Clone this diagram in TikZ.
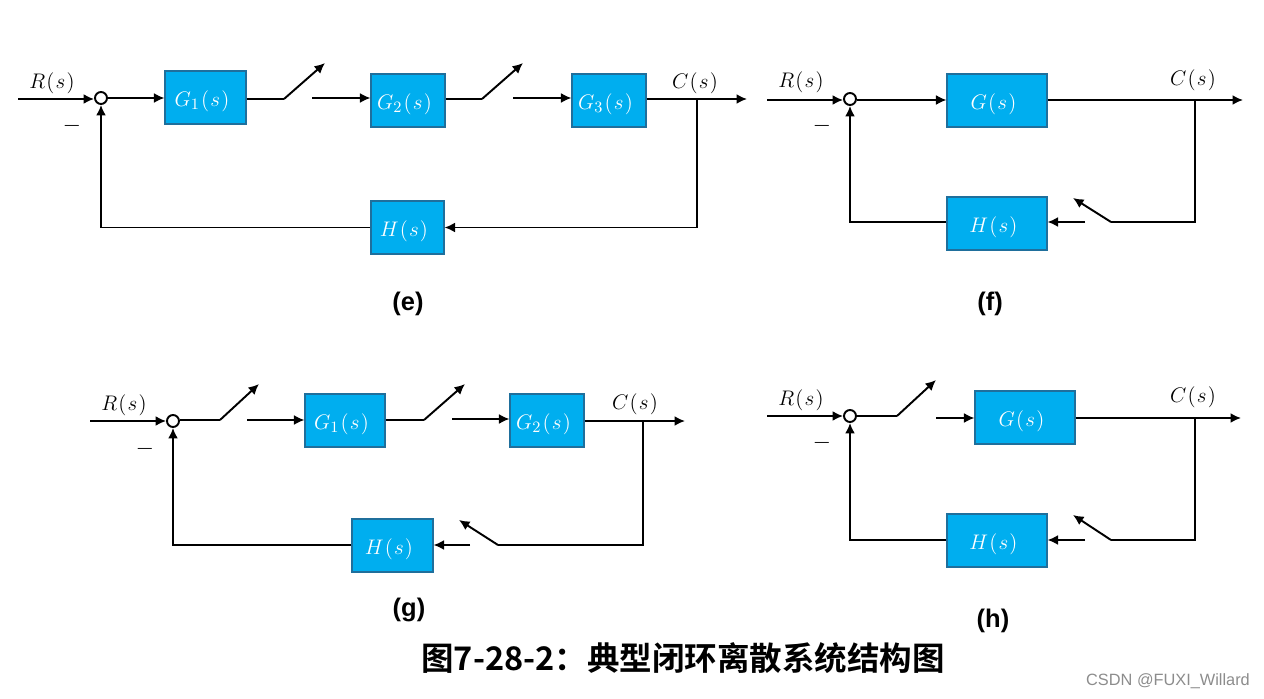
\documentclass[tikz,border=0pt]{standalone}
\usepackage{amsmath,amssymb}
\usepackage{fontspec}
\setsansfont{Liberation Sans}
\newfontfamily\cjk{Noto Sans CJK SC}[BoldFont={* Bold}]
\usepackage{xcolor}
\usetikzlibrary{arrows.meta,positioning,calc}
\definecolor{blockblue}{HTML}{00AEEF}
\definecolor{blockedge}{HTML}{1F6F9C}
\newcommand{\tfn}[1]{$#1\mkern1mu(\mkern1mu s\mkern1mu)$}

\begin{document}
\begin{tikzpicture}[x=.02cm,y=-.02cm,>={Latex[length=2.1mm,width=2mm]},line width=1.1pt]
\tikzstyle{block}=[draw=blockedge,line width=.6pt,fill=blockblue,text=white,minimum height=1.06cm,inner sep=0pt,font=\fontsize{13}{15}\selectfont,text height=13.75pt,text depth=3.25pt,execute at end node={\hspace{4pt}}]
\tikzstyle{sumpt}=[circle,draw,fill=white,minimum size=.24cm,inner sep=0pt]
\tikzstyle{sig}=[font=\fontsize{13}{15}\selectfont,inner sep=0pt]
\tikzstyle{minus}=[font=\sffamily\fontsize{8}{10}\selectfont,inner sep=0pt]
\tikzstyle{subcap}=[font=\sffamily\bfseries\fontsize{14.5}{16}\selectfont,inner sep=0pt]
\useasboundingbox (0,0) rectangle (1264,699);
% (e) three blocks, two samplers
\node[sumpt] (sumE) at (101,98) {};
\node[block,minimum width=1.62cm] (g1E) at (205.5,97.5) {\tfn{G_1}};
\node[block,minimum width=1.48cm] (g2E) at (408,100.5) {\tfn{G_2}};
\node[block,minimum width=1.48cm] (g3E) at (609,100.5) {\tfn{G_3}};
\node[block,minimum width=1.46cm] (hE) at (407.5,227.5) {\tfn{H}};
\node[sig] (rE) at (52,83) {\tfn{R}};
\node[sig] (cE) at (695,83) {\tfn{C}};
\node[minus] (mE) at (72,127) {---};
\node[subcap] (capE) at (408,303.5) {(e)};
\coordinate (inE) at (18,99);
\coordinate (outE) at (747,99);
\coordinate (tapE) at (697,99);
\coordinate (sa1E) at (284,99);
\coordinate (sb1E) at (325,63);
\coordinate (sc1E) at (312,98);
\coordinate (sa2E) at (482,99);
\coordinate (sb2E) at (523,63);
\coordinate (sc2E) at (513,98);
\draw[->] (inE) -- (sumE.west |- inE);
\draw[->] (sumE.east) -- (g1E.west |- sumE.east);
\draw (g1E.east |- sa1E) -- (sa1E);
\draw[->] (sa1E) -- (sb1E);
\draw[->] (sc1E) -- (g2E.west |- sc1E);
\draw (g2E.east |- sa2E) -- (sa2E);
\draw[->] (sa2E) -- (sb2E);
\draw[->] (sc2E) -- (g3E.west |- sc2E);
\draw[->] (g3E.east |- outE) -- (outE);
\draw[->] (tapE) |- (hE.east);
\draw[->] (hE.west) -| (sumE.south);
% (f) sampler in the feedback path
\node[sumpt] (sumF) at (850,99) {};
\node[block,minimum width=2cm] (gF) at (997,100.5) {\tfn{G}};
\node[block,minimum width=2cm] (hF) at (997,223.5) {\tfn{H}};
\node[sig] (rF) at (801,82) {\tfn{R}};
\node[sig] (cF) at (1193,80) {\tfn{C}};
\node[minus] (mF) at (822,127) {---};
\node[subcap] (capF) at (990,303.5) {(f)};
\coordinate (inF) at (767,100);
\coordinate (outF) at (1243,100);
\coordinate (tapF) at (1195,100);
\coordinate (saF) at (1111,222);
\coordinate (sbF) at (1073,198);
\coordinate (scF) at (1085,222);
\draw[->] (inF) -- (sumF.west |- inF);
\draw[->] (sumF.east |- inF) -- (gF.west |- inF);
\draw[->] (gF.east |- outF) -- (outF);
\draw (tapF) |- (saF);
\draw[->] (saF) -- (sbF);
\draw[->] (scF) -- (hF.east |- scF);
\draw[->] (hF.west |- saF) -| (sumF.south);
% (g) samplers in both paths
\node[sumpt] (sumG) at (173,421) {};
\node[block,minimum width=1.6cm] (g1G) at (345,420.5) {\tfn{G_1}};
\node[block,minimum width=1.48cm] (g2G) at (547,420.5) {\tfn{G_2}};
\node[block,minimum width=1.62cm] (hG) at (392.5,545.5) {\tfn{H}};
\node[sig] (rG) at (124,405) {\tfn{R}};
\node[sig] (cG) at (635,404) {\tfn{C}};
\node[minus] (mG) at (145,450) {---};
\node[subcap] (capG) at (409,609.5) {(g)};
\coordinate (inG) at (90,421);
\coordinate (outG) at (685,421);
\coordinate (tapG) at (643,421);
\coordinate (sa1G) at (220,420);
\coordinate (sb1G) at (259,384);
\coordinate (sc1G) at (247,420);
\coordinate (sa2G) at (424,420);
\coordinate (sb2G) at (465,384);
\coordinate (sc2G) at (452,419);
\coordinate (sa3G) at (498,545);
\coordinate (sb3G) at (459,520);
\coordinate (sc3G) at (470,545);
\draw[->] (inG) -- (sumG.west);
\draw (sumG.east |- sa1G) -- (sa1G);
\draw[->] (sa1G) -- (sb1G);
\draw[->] (sc1G) -- (g1G.west |- sc1G);
\draw (g1G.east |- sa2G) -- (sa2G);
\draw[->] (sa2G) -- (sb2G);
\draw[->] (sc2G) -- (g2G.west |- sc2G);
\draw[->] (g2G.east |- outG) -- (outG);
\draw (tapG) |- (sa3G);
\draw[->] (sa3G) -- (sb3G);
\draw[->] (sc3G) -- (hG.east |- sc3G);
\draw[->] (hG.west |- sa3G) -| (sumG.south);
% (h) sampler after the summing point and in the feedback path
\node[sumpt] (sumH) at (850,416) {};
\node[block,minimum width=2cm] (gH) at (1025,417.5) {\tfn{G}};
\node[block,minimum width=2cm] (hH) at (997,540.5) {\tfn{H}};
\node[sig] (rH) at (801,400) {\tfn{R}};
\node[sig] (cH) at (1193,397) {\tfn{C}};
\node[minus] (mH) at (822,444) {---};
\node[subcap] (capH) at (993,620.5) {(h)};
\coordinate (inH) at (767,416);
\coordinate (outH) at (1241,418);
\coordinate (tapH) at (1195,418);
\coordinate (sa1H) at (897,416);
\coordinate (sb1H) at (936,380);
\coordinate (sc1H) at (936,418);
\coordinate (sa2H) at (1111,540);
\coordinate (sb2H) at (1073,515);
\coordinate (sc2H) at (1085,540);
\draw[->] (inH) -- (sumH.west);
\draw (sumH.east |- sa1H) -- (sa1H);
\draw[->] (sa1H) -- (sb1H);
\draw[->] (sc1H) -- (gH.west |- sc1H);
\draw[->] (gH.east |- outH) -- (outH);
\draw (tapH) |- (sa2H);
\draw[->] (sa2H) -- (sb2H);
\draw[->] (sc2H) -- (hH.east |- sc2H);
\draw[->] (hH.west |- sa2H) -| (sumH.south);
% caption and credit
\node[font=\cjk\bfseries\fontsize{18.5}{21}\selectfont,inner sep=0pt] (title) at (683,658.5) {图7-28-2：典型闭环离散系统结构图};
\node[font=\sffamily\fontsize{9.3}{11}\selectfont,text=black!45,inner sep=0pt] (credit) at (1168,681) {CSDN @FUXI\_Willard};
\end{tikzpicture}
\end{document}
